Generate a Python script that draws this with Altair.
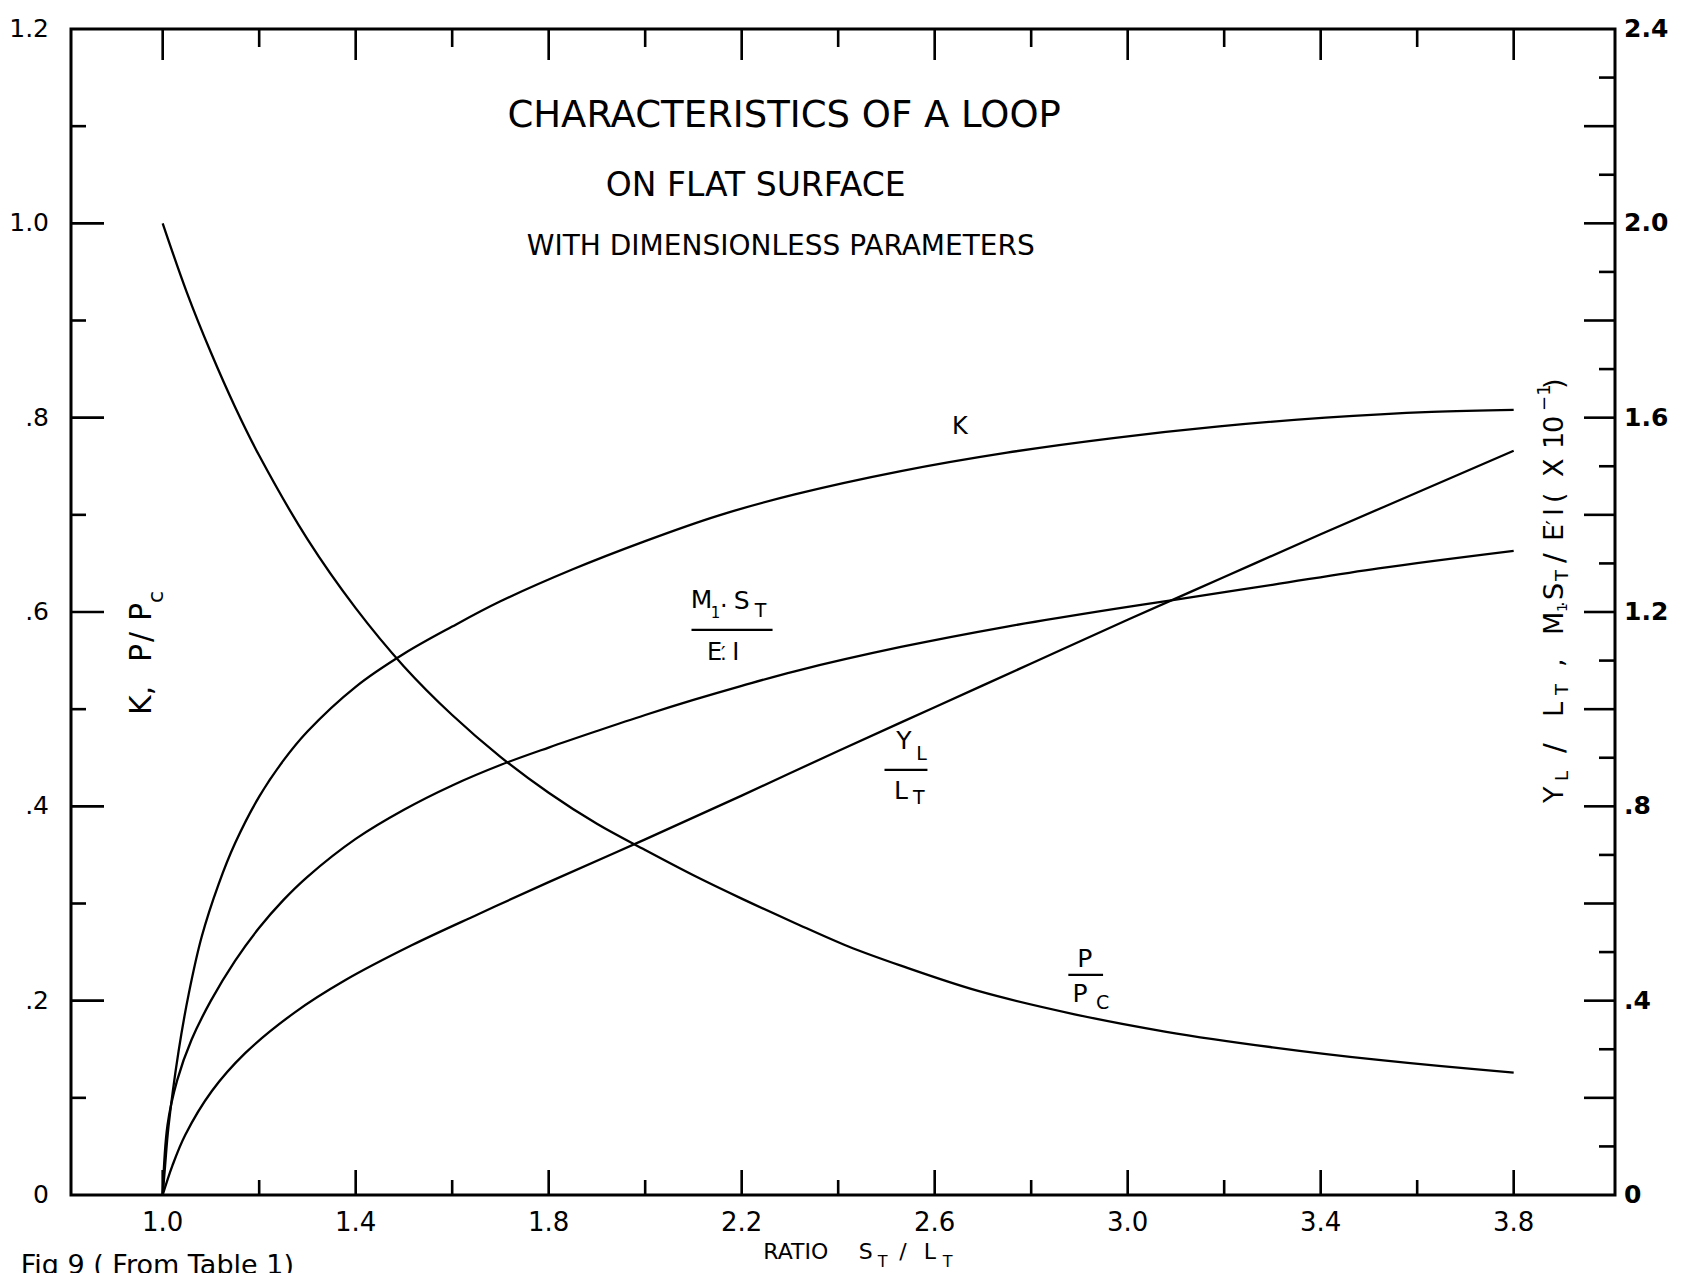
import altair as alt
import pandas as pd

FONT = "DejaVu Sans"

# ---------------- data ----------------
# K  (left scale)
k_x = [1.0, 1.005, 1.012, 1.033, 1.054, 1.081, 1.116, 1.15, 1.2, 1.25, 1.3, 1.4,
       1.5, 1.6, 1.7, 1.85, 2.0, 2.15, 2.31, 2.53, 2.75, 2.97, 3.19, 3.41, 3.63, 3.8]
k_y = [0.0, 0.03, 0.07, 0.148, 0.207, 0.266, 0.32, 0.362, 0.41, 0.447, 0.477, 0.523,
       0.557, 0.585, 0.611, 0.644, 0.673, 0.699, 0.721, 0.745, 0.764, 0.779, 0.791, 0.800, 0.806, 0.808]

# P/Pc (left scale)
p_x = [1.0, 1.05, 1.1, 1.15, 1.2, 1.3, 1.4, 1.5, 1.6, 1.7, 1.8, 1.9, 2.0, 2.1, 2.2,
       2.31, 2.42, 2.53, 2.69, 2.89, 3.08, 3.3, 3.52, 3.8]
p_y = [1.0, 0.929, 0.867, 0.811, 0.761, 0.675, 0.604, 0.544, 0.494, 0.451, 0.414, 0.382,
       0.355, 0.329, 0.305, 0.280, 0.256, 0.236, 0.210, 0.186, 0.168, 0.152, 0.139, 0.126]

# M1.ST/E'I (right scale)
m_x = [1.0, 1.01, 1.03, 1.06, 1.1, 1.15, 1.2, 1.25, 1.3, 1.4, 1.5, 1.6, 1.7, 1.8, 1.9,
       2.0, 2.1, 2.2, 2.31, 2.53, 2.75, 2.97, 3.09, 3.3, 3.52, 3.8]
m_y = [0.0, 0.144, 0.236, 0.32, 0.4, 0.482, 0.55, 0.607, 0.655, 0.733, 0.793, 0.843,
       0.885, 0.921, 0.955, 0.988, 1.019, 1.048, 1.078, 1.128, 1.17, 1.206, 1.224, 1.256, 1.29, 1.326]

# YL/LT (right scale)
yl_x = [1.0, 1.02, 1.047, 1.102, 1.171, 1.274, 1.378, 1.516, 1.654, 1.8, 2.0, 2.2, 2.4,
        2.6, 2.8, 3.0, 3.2, 3.4, 3.6, 3.8]
yl_y = [0.0, 0.06, 0.124, 0.214, 0.292, 0.376, 0.442, 0.514, 0.578, 0.644, 0.732, 0.822,
        0.914, 1.004, 1.094, 1.184, 1.272, 1.36, 1.446, 1.532]

# tick positions / labels
x_major = [1.0, 1.4, 1.8, 2.2, 2.6, 3.0, 3.4, 3.8]
x_major_text = ["1.0", "1.4", "1.8", "2.2", "2.6", "3.0", "3.4", "3.8"]
x_minor = [1.2, 1.6, 2.0, 2.4, 2.8, 3.2, 3.6]
yl_label_vals = [0.0, 0.2, 0.4, 0.6, 0.8, 1.0, 1.2]
yl_label_text = ["0", ".2", ".4", ".6", ".8", "1.0", "1.2"]
yl_major = [0.2, 0.4, 0.6, 0.8, 1.0]
yl_minor = [0.1, 0.3, 0.5, 0.7, 0.9, 1.1]
yr_label_vals = [0.0, 0.4, 0.8, 1.2, 1.6, 2.0, 2.4]
yr_label_text = ["0", ".4", ".8", "1.2", "1.6", "2.0", "2.4"]
yr_major = [0.2, 0.4, 0.6, 0.8, 1.0, 1.2, 1.4, 1.6, 1.8, 2.0, 2.2]
yr_minor = [0.1, 0.3, 0.5, 0.7, 0.9, 1.1, 1.3, 1.5, 1.7, 1.9, 2.1, 2.3]

# ---------------- layout ----------------
W, H = 1544, 1166
x_scale = alt.Scale(domain=[0.81, 4.01], nice=False, zero=False)
yl_scale = alt.Scale(domain=[0, 1.2], nice=False, zero=False)
yr_scale = alt.Scale(domain=[0, 2.4], nice=False, zero=False)

LW = 2.3
TW = 2.6
CURVE = "catmull-rom"

left_df = pd.DataFrame({
    "x": k_x + p_x,
    "v": k_y + p_y,
    "s": ["K"] * len(k_x) + ["P/Pc"] * len(p_x),
})
right_df = pd.DataFrame({
    "x": m_x + yl_x,
    "v": m_y + yl_y,
    "s": ["M1.ST/E'I"] * len(m_x) + ["YL/LT"] * len(yl_x),
})

left_lines = alt.Chart(left_df).mark_line(
    color="black", strokeWidth=LW, interpolate=CURVE
).encode(
    x=alt.X("x:Q", scale=x_scale, axis=None),
    y=alt.Y("v:Q", scale=yl_scale, axis=None),
    detail="s:N",
)

right_lines = alt.Chart(right_df).mark_line(
    color="black", strokeWidth=LW, interpolate=CURVE
).encode(
    x=alt.X("x:Q", scale=x_scale, axis=None),
    y=alt.Y("v:Q", scale=yr_scale, axis=None),
    detail="s:N",
)


def xticks(vals, length, top):
    df = pd.DataFrame({"t": vals})
    if top:
        yy, yy2 = alt.value(0), alt.value(length)
    else:
        yy, yy2 = alt.value(H), alt.value(H - length)
    return alt.Chart(df).mark_rule(color="black", strokeWidth=TW).encode(
        x=alt.X("t:Q", scale=x_scale, axis=None), y=yy, y2=yy2)


def yticks(vals, length, scale, left):
    df = pd.DataFrame({"t": vals})
    if left:
        xx, xx2 = alt.value(0), alt.value(length)
    else:
        xx, xx2 = alt.value(W), alt.value(W - length)
    return alt.Chart(df).mark_rule(color="black", strokeWidth=TW).encode(
        y=alt.Y("t:Q", scale=scale, axis=None), x=xx, x2=xx2)


# tick labels drawn as text from the label lists
x_tick_labels = alt.Chart(pd.DataFrame({"v": x_major, "t": x_major_text})).mark_text(
    font=FONT, fontSize=26, baseline="middle", align="center", color="black"
).encode(x=alt.X("v:Q", scale=x_scale, axis=None), y=alt.value(H + 28), text="t:N")

yl_tick_labels = alt.Chart(pd.DataFrame({"v": yl_label_vals, "t": yl_label_text})).mark_text(
    font=FONT, fontSize=25, baseline="middle", align="right", color="black"
).encode(y=alt.Y("v:Q", scale=yl_scale, axis=None), x=alt.value(-22), text="t:N")

yr_tick_labels = alt.Chart(pd.DataFrame({"v": yr_label_vals, "t": yr_label_text})).mark_text(
    font=FONT, fontSize=25, fontWeight="bold", baseline="middle", align="left", color="black"
).encode(y=alt.Y("v:Q", scale=yr_scale, axis=None), x=alt.value(W + 9), text="t:N")


def label(text, x, y, size, angle=0, align="center", baseline="middle", dx=0, dy=0, weight="normal"):
    df = pd.DataFrame({"x": [x], "y": [y], "t": [text]})
    return alt.Chart(df).mark_text(
        font=FONT, fontSize=size, angle=angle, align=align, baseline=baseline,
        dx=dx, dy=dy, color="black", fontWeight=weight
    ).encode(
        x=alt.X("x:Q", scale=x_scale, axis=None),
        y=alt.Y("y:Q", scale=yl_scale, axis=None),
        text="t:N",
    )


# annotation texts (data coordinates on the left scale)
texts = [
    label("CHARACTERISTICS OF A LOOP", 2.288, 1.1107, 37),
    label("ON FLAT SURFACE", 2.229, 1.0386, 33),
    label("WITH DIMENSIONLESS PARAMETERS", 2.281, 0.9758, 28),
    label("K", 2.652, 0.7905, 24),
    # M1.ST / E'I
    label("M", 2.117, 0.6125, 25),
    label("1", 2.146, 0.599, 15),
    label("·", 2.163, 0.605, 24),
    label("S", 2.200, 0.6114, 25),
    label("T", 2.239, 0.601, 19),
    label("E", 2.144, 0.558, 24),
    label("′", 2.162, 0.557, 20),
    label(".", 2.162, 0.557, 20),
    label("I", 2.188, 0.558, 24),
    # YL / LT
    label("Y", 2.536, 0.467, 25),
    label("L", 2.573, 0.454, 19),
    label("L", 2.530, 0.416, 25),
    label("T", 2.567, 0.4087, 19),
    # P / PC
    label("P", 2.911, 0.243, 25),
    label("P", 2.901, 0.207, 25),
    label("C", 2.948, 0.1976, 19),
    # x-axis title
    label("RATIO", 2.312, -0.0587, 22),
    label("S", 2.457, -0.0587, 22),
    label("T", 2.492, -0.0690, 16),
    label("/", 2.534, -0.0587, 22),
    label("L", 2.590, -0.0587, 22),
    label("T", 2.627, -0.0690, 16),
    # caption
    label("Fig 9   ( From Table 1)", 0.7057, -0.0595, 27, align="left", baseline="top"),
]

# left axis title (rotated, reads upwards)
LX, LY = 0.957, 0.494
for t, dx, dy, sz in [("K,", 0, 0, 30), ("P", 53, 0, 30), ("/", 73, 0, 30), ("P", 94, 0, 30), ("c", 112, 14, 22)]:
    texts.append(label(t, LX, LY, sz, angle=270, align="left", dx=dx, dy=dy))

# right axis title (rotated, reads upwards)
RX, RY = 3.885, 0.4035
for t, dx, dy, sz in [
    ("Y", 0, 0, 27), ("L", 22, 8, 18), ("/", 50, 0, 29), ("L", 86, 0, 27), ("T", 108, 8, 18),
    (",", 136, 0, 27), ("M", 168, 0, 27), ("1", 191, 8, 14), (".", 196, 4, 18),
    ("S", 203, 0, 27), ("T", 222, 8, 18), ("/", 240, 0, 29), ("E", 262, 0, 27),
    ("′", 278, 0, 22), ("I", 287, 0, 27), ("(", 300, 0, 27), ("X", 326, 0, 27),
    ("1", 354, 0, 27), ("0", 370, 0, 27), ("−1", 392, -10, 18), (")", 414, 0, 27),
]:
    texts.append(label(t, RX, RY, sz, angle=270, align="left", dx=dx, dy=dy))

# fraction bars
bars_df = pd.DataFrame({
    "x": [2.096, 2.496, 2.877],
    "x2": [2.264, 2.585, 2.949],
    "y": [0.5816, 0.4375, 0.2265],
})
bars = alt.Chart(bars_df).mark_rule(color="black", strokeWidth=2.2).encode(
    x=alt.X("x:Q", scale=x_scale, axis=None),
    x2="x2:Q",
    y=alt.Y("y:Q", scale=yl_scale, axis=None),
)

left_layer = alt.layer(
    left_lines,
    xticks(x_major, 25, False), xticks(x_minor, 15, False),
    xticks(x_major, 31, True), xticks(x_minor, 18, True),
    yticks(yl_major, 33, yl_scale, True), yticks(yl_minor, 15, yl_scale, True),
    x_tick_labels, yl_tick_labels,
    bars,
    *texts,
)

right_layer = alt.layer(
    right_lines,
    yticks(yr_major, 31, yr_scale, False), yticks(yr_minor, 16, yr_scale, False),
    yr_tick_labels,
)

chart = alt.layer(left_layer, right_layer).resolve_scale(y="independent").properties(
    width=W, height=H,
    autosize=alt.AutoSizeParams(type="none"),
    padding={"left": 63, "top": 21, "right": 62, "bottom": 78},
    background="white",
).configure_view(stroke="black", strokeWidth=3)

chart.save("out.html", embed_options={"renderer": "svg", "actions": False})
